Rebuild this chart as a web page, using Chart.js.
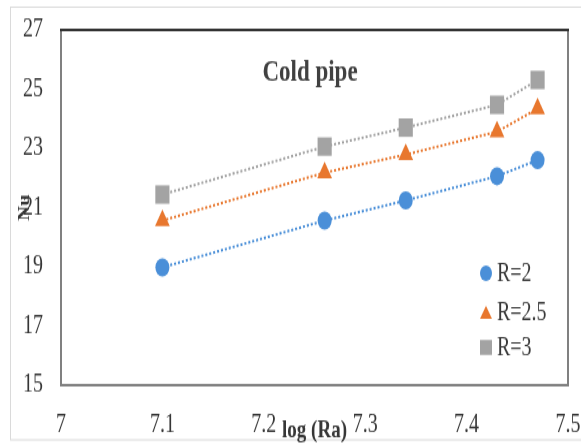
<!DOCTYPE html>
<html>
<head>
<meta charset="utf-8">
<script src="https://cdn.jsdelivr.net/npm/chart.js@4.4.1/dist/chart.umd.min.js"></script>
<style>
  html, body { margin: 0; padding: 0; background: #fff; overflow: hidden; }
  #page { width: 581px; height: 445px; position: relative; background: #fff; }
  /* the figure is drawn squat and stretched tall, like the printed one */
  #wrap { position: absolute; left: 0; top: 0; width: 581px; height: 342px; transform: scaleY(1.3012); transform-origin: 0 0; }
</style>
</head>
<body>
<div id="page"><div id="wrap"><canvas id="nuChart" width="581" height="342"></canvas></div></div>
<script>
// log(Ra) positions of the runs
const logRa = [7.1, 7.26, 7.34, 7.43, 7.47];
// Nusselt number per radius ratio
const nuR2 = [18.98, 20.56, 21.24, 22.06, 22.6];
const nuR25 = [20.56, 22.18, 22.79, 23.56, 24.34];
const nuR3 = [21.44, 23.06, 23.7, 24.47, 25.31];
const seriesNames = ['R=2', 'R=2.5', 'R=3'];
const xTicks = [7, 7.1, 7.2, 7.3, 7.4, 7.5];
const yTicks = [15, 17, 19, 21, 23, 25, 27];

const colors = ['#4a8fd8', '#e8772e', '#a3a3a3'];
const styles = ['circle', 'triangle', 'rect'];
const radii = [7, 8.5, 10];
const serif = '"Liberation Serif", "Times New Roman", serif';

const toPoints = ys => logRa.map((x, i) => ({ x: x, y: ys[i] }));

const datasets = [nuR2, nuR25, nuR3].map((ys, i) => ({
  label: seriesNames[i],
  data: toPoints(ys),
  showLine: true,
  borderColor: colors[i],
  borderWidth: 2,
  borderDash: [2, 2],
  backgroundColor: colors[i],
  pointStyle: styles[i],
  pointRadius: radii[i],
  pointHoverRadius: radii[i],
  pointBorderWidth: 0,
  pointBackgroundColor: colors[i]
}));

function marker(ctx, style, x, y, w, h, color) {
  ctx.fillStyle = color;
  ctx.beginPath();
  if (style === 'circle') {
    ctx.ellipse(x, y, w / 2, h / 2, 0, 0, Math.PI * 2);
  } else if (style === 'triangle') {
    ctx.moveTo(x, y - h / 2);
    ctx.lineTo(x + w / 2, y + h / 2);
    ctx.lineTo(x - w / 2, y + h / 2);
    ctx.closePath();
  } else {
    ctx.rect(x - w / 2, y - h / 2, w, h);
  }
  ctx.fill();
}

// axes keep a fixed size so the plot box sits where it should
function fixAxis(scale, size) {
  if (scale.isHorizontal()) scale.height = size; else scale.width = size;
  scale.paddingTop = 0;
  scale.paddingBottom = 0;
  scale.paddingLeft = 0;
  scale.paddingRight = 0;
}

const decor = {
  id: 'decor',
  beforeDraw(chart) {
    const ctx = chart.ctx;
    ctx.save();
    ctx.fillStyle = '#fff';
    ctx.fillRect(0, 0, chart.width, chart.height);
    ctx.strokeStyle = '#dadada';
    ctx.lineWidth = 1;
    ctx.strokeRect(10.5, 5.5, 640, 332.5);
    ctx.restore();
  },
  beforeDatasetsDraw(chart) {
    const ctx = chart.ctx;
    const a = chart.chartArea;
    ctx.save();
    // plot frame
    ctx.strokeStyle = '#808080';
    ctx.lineWidth = 2;
    ctx.beginPath();
    ctx.moveTo(a.left, a.top);
    ctx.lineTo(a.left, a.bottom);
    ctx.lineTo(a.right, a.bottom);
    ctx.lineTo(a.right, a.top);
    ctx.stroke();
    ctx.strokeStyle = '#333';
    ctx.lineWidth = 1.8;
    ctx.beginPath();
    ctx.moveTo(a.left - 1, a.top);
    ctx.lineTo(a.right + 1, a.top);
    ctx.stroke();
    // caption inside the plot
    ctx.fillStyle = '#404040';
    ctx.font = 'bold 23px ' + serif;
    ctx.textAlign = 'center';
    ctx.textBaseline = 'middle';
    ctx.fillText('Cold pipe', 310, 56);
    ctx.restore();
  },
  afterDatasetsDraw(chart) {
    const ctx = chart.ctx;
    const rows = [210, 240, 267];
    const sizes = [[12, 12], [12, 10], [12, 11.5]];
    ctx.save();
    ctx.font = '20px ' + serif;
    ctx.textAlign = 'left';
    ctx.textBaseline = 'middle';
    seriesNames.forEach((name, i) => {
      marker(ctx, styles[i], 486, rows[i], sizes[i][0], sizes[i][1], colors[i]);
      ctx.fillStyle = '#383838';
      ctx.fillText(name, 497, rows[i] + 1);
    });
    ctx.restore();
  }
};

new Chart(document.getElementById('nuChart'), {
  type: 'scatter',
  data: { datasets: datasets },
  options: {
    responsive: false,
    animation: false,
    events: [],
    layout: { padding: { left: 10, top: 23, right: 13, bottom: 0 } },
    plugins: { legend: { display: false }, tooltip: { enabled: false } },
    scales: {
      x: {
        type: 'linear',
        min: xTicks[0],
        max: xTicks[xTicks.length - 1],
        afterFit(scale) { fixAxis(scale, 46); },
        afterBuildTicks(scale) { scale.ticks = xTicks.map(v => ({ value: v })); },
        grid: { display: false, drawTicks: false },
        border: { display: false },
        ticks: {
          padding: 19,
          color: '#363636',
          font: { family: serif, size: 20 },
          callback: v => String(v)
        },
        title: {
          display: true,
          text: 'log (Ra)',
          color: '#363636',
          font: { family: serif, size: 19, weight: 'bold' },
          padding: { top: 0, bottom: 0 }
        }
      },
      y: {
        type: 'linear',
        min: yTicks[0],
        max: yTicks[yTicks.length - 1],
        afterFit(scale) { fixAxis(scale, 51); },
        afterBuildTicks(scale) { scale.ticks = yTicks.map(v => ({ value: v })); },
        grid: { display: false, drawTicks: false },
        border: { display: false },
        ticks: {
          padding: 18,
          color: '#363636',
          font: { family: serif, size: 20 },
          callback: v => String(v)
        },
        title: {
          display: true,
          text: 'Nu',
          color: '#363636',
          font: { family: serif, size: 16, weight: 'bold' },
          padding: { top: 5, bottom: 0 }
        }
      }
    }
  },
  plugins: [decor]
});
</script>
</body>
</html>
